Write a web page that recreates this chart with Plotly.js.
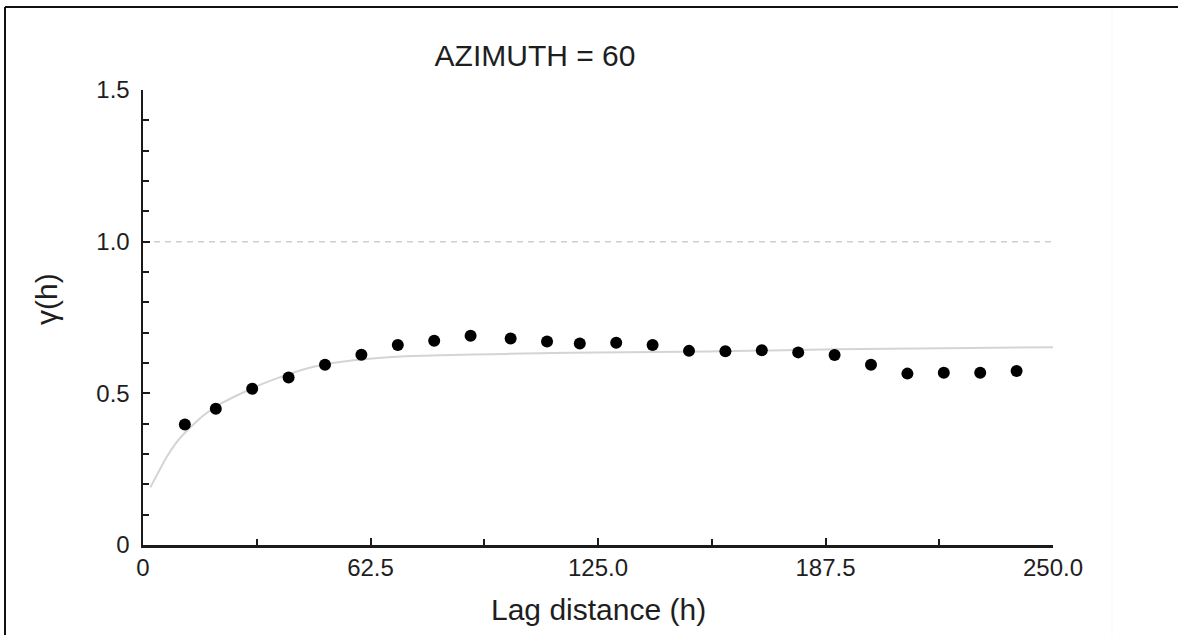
<!DOCTYPE html>
<html>
<head>
<meta charset="utf-8">
<script src="https://cdn.plot.ly/plotly-3.0.1.min.js"></script>
<style>
html,body{margin:0;padding:0;background:#fff;}
#chart{width:1178px;height:635px;}
</style>
</head>
<body>
<div id="chart"></div>
<script>
// Experimental variogram points
var lagDistance = [11.5, 20, 30, 40, 50, 60, 70, 80, 90, 101, 111, 120, 130, 140, 150, 160, 170, 180, 190, 200, 210, 220, 230, 240];
var gammaValues = [0.397, 0.449, 0.515, 0.552, 0.594, 0.627, 0.659, 0.673, 0.690, 0.681, 0.671, 0.664, 0.667, 0.659, 0.640, 0.639, 0.642, 0.635, 0.626, 0.594, 0.565, 0.568, 0.568, 0.574];

// Fitted model curve
var modelLag = [2, 4, 6.5, 9, 11.5, 14.5, 17.5, 22, 26.5, 31, 36, 45, 54, 63, 72, 91, 109, 125, 155, 190, 220, 250];
var modelGamma = [0.19, 0.235, 0.29, 0.335, 0.37, 0.405, 0.435, 0.47, 0.497, 0.522, 0.546, 0.582, 0.603, 0.615, 0.622, 0.628, 0.632, 0.635, 0.638, 0.645, 0.649, 0.652];

// Sill reference line
var sillLag = [0, 250];
var sillGamma = [1.0, 1.0];

// Tick labels
var xTickVals = [0, 62.5, 125, 187.5, 250];
var xTickText = ['0', '62.5', '125.0', '187.5', '250.0'];
var yTickVals = [0, 0.5, 1.0, 1.5];
var yTickText = ['0', '0.5', '1.0', '1.5'];

var titleText = 'AZIMUTH = 60';
var xTitle = 'Lag distance (h)';
var yTitle = 'γ(h)';

var W = 1178, H = 635;
var L = 143, R = 1053, T = 90, B = 545;
function px(x){ return (x - L) / (R - L); }
function py(y){ return (B - y) / (B - T); }

var font = 'Liberation Sans, Arial, Helvetica, sans-serif';
var txt = '#1e1e1e';

var traces = [
  {x: sillLag, y: sillGamma, mode: 'lines', type: 'scatter',
   line: {color: '#cfcfcf', width: 1.5, dash: '6px,5px'}, hoverinfo: 'skip'},
  {x: modelLag, y: modelGamma, mode: 'lines', type: 'scatter',
   line: {color: '#d4d4d4', width: 2, shape: 'spline', smoothing: 0.6}, cliponaxis: false},
  {x: lagDistance, y: gammaValues, mode: 'markers', type: 'scatter',
   marker: {color: '#000', size: 12}, cliponaxis: false}
];

var layout = {
  width: W, height: H,
  margin: {l: L, r: W - R, t: T, b: H - B, pad: 0},
  paper_bgcolor: '#fff', plot_bgcolor: '#fff',
  showlegend: false,
  font: {family: font, color: txt, size: 24},
  title: {text: titleText, font: {family: font, size: 30, color: txt},
          x: 535 / W, xanchor: 'center', y: 1 - 55 / H, yanchor: 'middle', xref: 'container', yref: 'container'},
  xaxis: {
    range: [0, 250], showgrid: false, zeroline: false,
    showline: true, linecolor: '#1a1a1a', linewidth: 2.5,
    tickmode: 'array', tickvals: xTickVals, ticktext: xTickText,
    ticks: 'inside', ticklen: 7, tickwidth: 2, tickcolor: '#1a1a1a',
    tickfont: {family: font, size: 24, color: txt},
    minor: {tickmode: 'linear', tick0: 0, dtick: 31.25, ticks: 'inside', ticklen: 6, tickwidth: 2, tickcolor: '#1a1a1a', showgrid: false},
    fixedrange: true
  },
  yaxis: {
    range: [0, 1.5], showgrid: false, zeroline: false,
    showline: true, linecolor: '#1a1a1a', linewidth: 2.5,
    tickmode: 'array', tickvals: yTickVals, ticktext: yTickText,
    ticks: 'inside', ticklen: 7, tickwidth: 2, tickcolor: '#1a1a1a',
    tickfont: {family: font, size: 24, color: txt},
    ticklabelstandoff: 6,
    minor: {tickmode: 'linear', tick0: 0, dtick: 0.1, ticks: 'inside', ticklen: 6, tickwidth: 2, tickcolor: '#1a1a1a', showgrid: false},
    fixedrange: true
  },
  annotations: [
    {text: xTitle, xref: 'paper', yref: 'paper', x: px(598), y: py(609), xanchor: 'center', yanchor: 'middle',
     showarrow: false, font: {family: font, size: 30, color: txt}},
    {text: yTitle, xref: 'paper', yref: 'paper', x: px(46), y: py(299), xanchor: 'center', yanchor: 'middle',
     textangle: -90, showarrow: false, font: {family: font, size: 30, color: txt}}
  ],
  shapes: [
    {type: 'line', xref: 'paper', yref: 'paper', x0: px(5), x1: px(1178), y0: py(7), y1: py(7), line: {color: '#111', width: 2}},
    {type: 'line', xref: 'paper', yref: 'paper', x0: px(5), x1: px(5), y0: py(7), y1: py(635), line: {color: '#111', width: 2}},
    {type: 'line', xref: 'paper', yref: 'paper', x0: px(1112), x1: px(1112), y0: py(8), y1: py(635), line: {color: '#f7f7f7', width: 1}}
  ]
};

Plotly.newPlot('chart', traces, layout, {staticPlot: true, displayModeBar: false});
</script>
</body>
</html>
